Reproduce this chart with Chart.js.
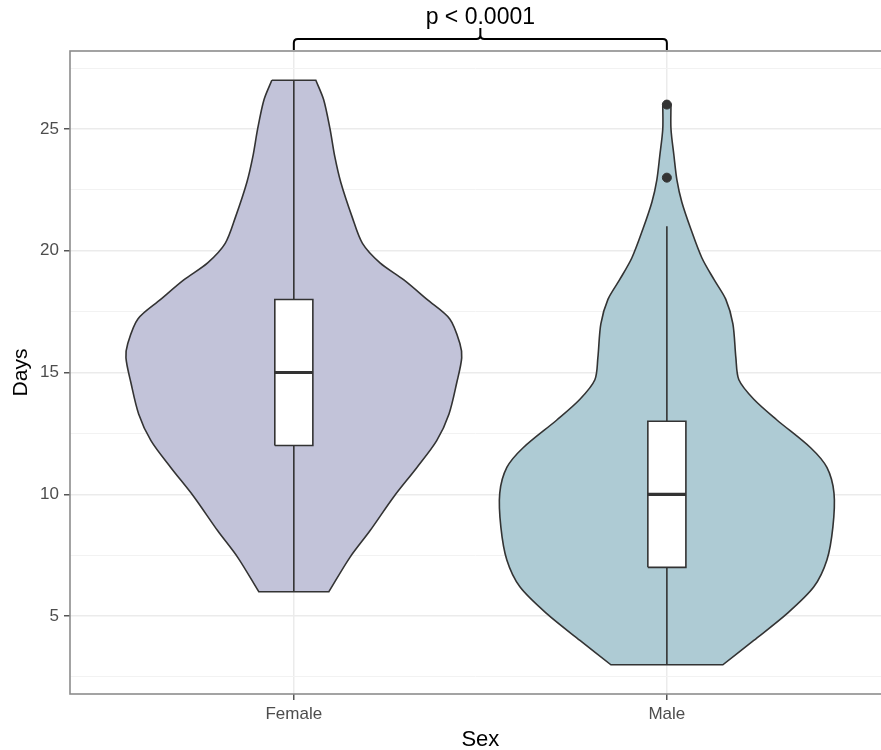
<!DOCTYPE html>
<html>
<head>
<meta charset="utf-8">
<script src="https://cdn.jsdelivr.net/npm/chart.js@4.4.0/dist/chart.umd.min.js"></script>
<style>
  html, body { margin: 0; padding: 0; background: #fff; }
  #wrap { width: 881px; height: 750px; }
</style>
</head>
<body>
<div id="wrap"><canvas id="violin"></canvas></div>
<script>
// Categories and data
const categories = ["Female", "Male"];

// violin outline: days (top to bottom) and half width of the density
const femaleDays  = [27, 26.2, 25, 23.85, 22.8, 21.4, 20.3, 19.5, 18.8, 18, 17.2, 16.2, 15.6, 14.6, 13.3, 12.2, 11.1, 9.9, 8.5, 7.4, 6];
const femaleWidth = [0.059, 0.080, 0.097, 0.110, 0.126, 0.156, 0.184, 0.231, 0.295, 0.357, 0.418, 0.445, 0.450, 0.437, 0.416, 0.383, 0.330, 0.268, 0.204, 0.150, 0.094];

const maleDays  = [26, 25, 23.9, 22.9, 22, 20.9, 19.7, 18.8, 18, 17, 15.6, 14.7, 13.9, 13.05, 11.9, 11.1, 10.05, 8.65, 7.3, 6.2, 5.1, 4.0, 3];
const maleWidth = [0.011, 0.011, 0.019, 0.027, 0.040, 0.064, 0.094, 0.127, 0.158, 0.177, 0.185, 0.193, 0.233, 0.295, 0.386, 0.429, 0.448, 0.445, 0.429, 0.394, 0.322, 0.233, 0.150];

// box stats: lower whisker, q1, median, q3, upper whisker
const femaleBox = [6, 12, 15, 18, 27];
const maleBox   = [3, 7, 10, 13, 21];
const maleOutliers = [23, 26];

const yTicks = [2.5, 5, 7.5, 10, 12.5, 15, 17.5, 20, 22.5, 25, 27.5];
const pLabel = "p < 0.0001";
const xTitle = "Sex";

const FONT = "'Liberation Sans', Arial, sans-serif";
const BOX_HALF = 0.051;

function violinPath(pos, days, widths) {
    const left = days.map((d, i) => ({ x: pos - widths[i], y: d }));
    const right = days.map((d, i) => ({ x: pos + widths[i], y: d })).reverse();
    const n = left.length - 1;
    // corners doubled so the flat top and bottom stay straight
    return [...left, left[n], right[0], ...right, right[n], left[0], left[0]];
}

function boxPath(pos, s) {
    return [
        { x: pos - BOX_HALF, y: s[1] }, { x: pos - BOX_HALF, y: s[3] },
        { x: pos + BOX_HALF, y: s[3] }, { x: pos + BOX_HALF, y: s[1] },
        { x: pos - BOX_HALF, y: s[1] }
    ];
}

const base = { pointRadius: 0, borderColor: "#333333", borderWidth: 1.6 };

const datasets = [
    Object.assign({}, base, { data: violinPath(1, femaleDays, femaleWidth), backgroundColor: "#c2c3d9", fill: "shape", tension: 0.3, order: 5 }),
    Object.assign({}, base, { data: violinPath(2, maleDays, maleWidth), backgroundColor: "#aecbd4", fill: "shape", tension: 0.3, order: 5 }),
    Object.assign({}, base, { data: [{ x: 1, y: femaleBox[0] }, { x: 1, y: femaleBox[4] }], fill: false, order: 4 }),
    Object.assign({}, base, { data: [{ x: 2, y: maleBox[0] }, { x: 2, y: maleBox[4] }], fill: false, order: 4 }),
    Object.assign({}, base, { data: boxPath(1, femaleBox), backgroundColor: "#ffffff", fill: "shape", tension: 0, order: 3 }),
    Object.assign({}, base, { data: boxPath(2, maleBox), backgroundColor: "#ffffff", fill: "shape", tension: 0, order: 3 }),
    Object.assign({}, base, { data: [{ x: 1 - BOX_HALF, y: femaleBox[2] }, { x: 1 + BOX_HALF, y: femaleBox[2] }], borderWidth: 3.2, fill: false, order: 2 }),
    Object.assign({}, base, { data: [{ x: 2 - BOX_HALF, y: maleBox[2] }, { x: 2 + BOX_HALF, y: maleBox[2] }], borderWidth: 3.2, fill: false, order: 2 }),
    { data: maleOutliers.map(v => ({ x: 2, y: v })), showLine: false, pointRadius: 4.5, pointBackgroundColor: "#333333", pointBorderColor: "#333333", order: 1 }
];

// panel border, significance bracket and the x title centred on the full panel
const decorations = {
    id: "decorations",
    afterDraw(chart) {
        const ctx = chart.ctx;
        const a = chart.chartArea;
        const xs = chart.scales.x;
        ctx.save();
        ctx.strokeStyle = "#8c8c8c";
        ctx.lineWidth = 1.6;
        ctx.strokeRect(a.left, a.top, a.right - a.left + 20, a.bottom - a.top);

        const x1 = xs.getPixelForValue(1), x2 = xs.getPixelForValue(2);
        const mid = (x1 + x2) / 2;
        const yl = a.top - 12, yb = a.top - 1, yt = a.top - 23, r = 4;
        ctx.strokeStyle = "#000";
        ctx.lineWidth = 2;
        ctx.beginPath();
        ctx.moveTo(x1, yb);
        ctx.lineTo(x1, yl + r);
        ctx.quadraticCurveTo(x1, yl, x1 + r, yl);
        ctx.lineTo(mid - r, yl);
        ctx.quadraticCurveTo(mid, yl, mid, yl - r);
        ctx.lineTo(mid, yt);
        ctx.moveTo(x2, yb);
        ctx.lineTo(x2, yl + r);
        ctx.quadraticCurveTo(x2, yl, x2 - r, yl);
        ctx.lineTo(mid + r, yl);
        ctx.quadraticCurveTo(mid, yl, mid, yl - r);
        ctx.stroke();

        ctx.fillStyle = "#000";
        ctx.textAlign = "center";
        ctx.textBaseline = "alphabetic";
        ctx.font = "23px " + FONT;
        ctx.fillText(pLabel, mid, 24);
        ctx.font = "22px " + FONT;
        ctx.fillText(xTitle, mid, 746);
        ctx.restore();
    }
};

new Chart(document.getElementById("violin"), {
    type: "line",
    data: { datasets: datasets },
    plugins: [decorations],
    options: {
        responsive: true,
        maintainAspectRatio: false,
        animation: false,
        layout: { autoPadding: false, padding: { top: 51, right: 0, left: 0, bottom: 0 } },
        plugins: {
            legend: { display: false },
            tooltip: { enabled: false }
        },
        scales: {
            x: {
                type: "linear",
                min: 0.4,
                max: 2.574, // panel is cut off at the right edge of the picture
                afterBuildTicks: s => { s.ticks = [{ value: 1 }, { value: 2 }]; },
                afterFit: s => { s.height = 56; s.paddingLeft = 0; s.paddingRight = 0; },
                ticks: {
                    callback: v => categories[v - 1],
                    color: "#4d4d4d",
                    font: { family: FONT, size: 17 },
                    padding: 4,
                    maxRotation: 0
                },
                grid: { color: "#ebebeb", lineWidth: 1.5, tickColor: "#555555", tickLength: 6 },
                border: { display: false }
            },
            y: {
                type: "linear",
                min: 1.8,
                max: 28.2,
                afterBuildTicks: s => { s.ticks = yTicks.map(v => ({ value: v })); },
                afterFit: s => { s.width = 70; },
                ticks: {
                    callback: v => (v % 5 === 0 ? v : ""),
                    color: "#4d4d4d",
                    font: { family: FONT, size: 17 },
                    padding: 5
                },
                grid: {
                    color: c => (c.tick && c.tick.value % 5 === 0 ? "#ebebeb" : "#f2f2f2"),
                    lineWidth: c => (c.tick && c.tick.value % 5 === 0 ? 1.5 : 1),
                    tickColor: c => (c.tick && c.tick.value % 5 === 0 ? "#555555" : "rgba(0,0,0,0)"),
                    tickLength: 6
                },
                border: { display: false },
                title: { display: true, text: "Days", color: "#000", font: { family: FONT, size: 21 }, padding: { top: 9, bottom: 0 } }
            }
        }
    }
});
</script>
</body>
</html>
